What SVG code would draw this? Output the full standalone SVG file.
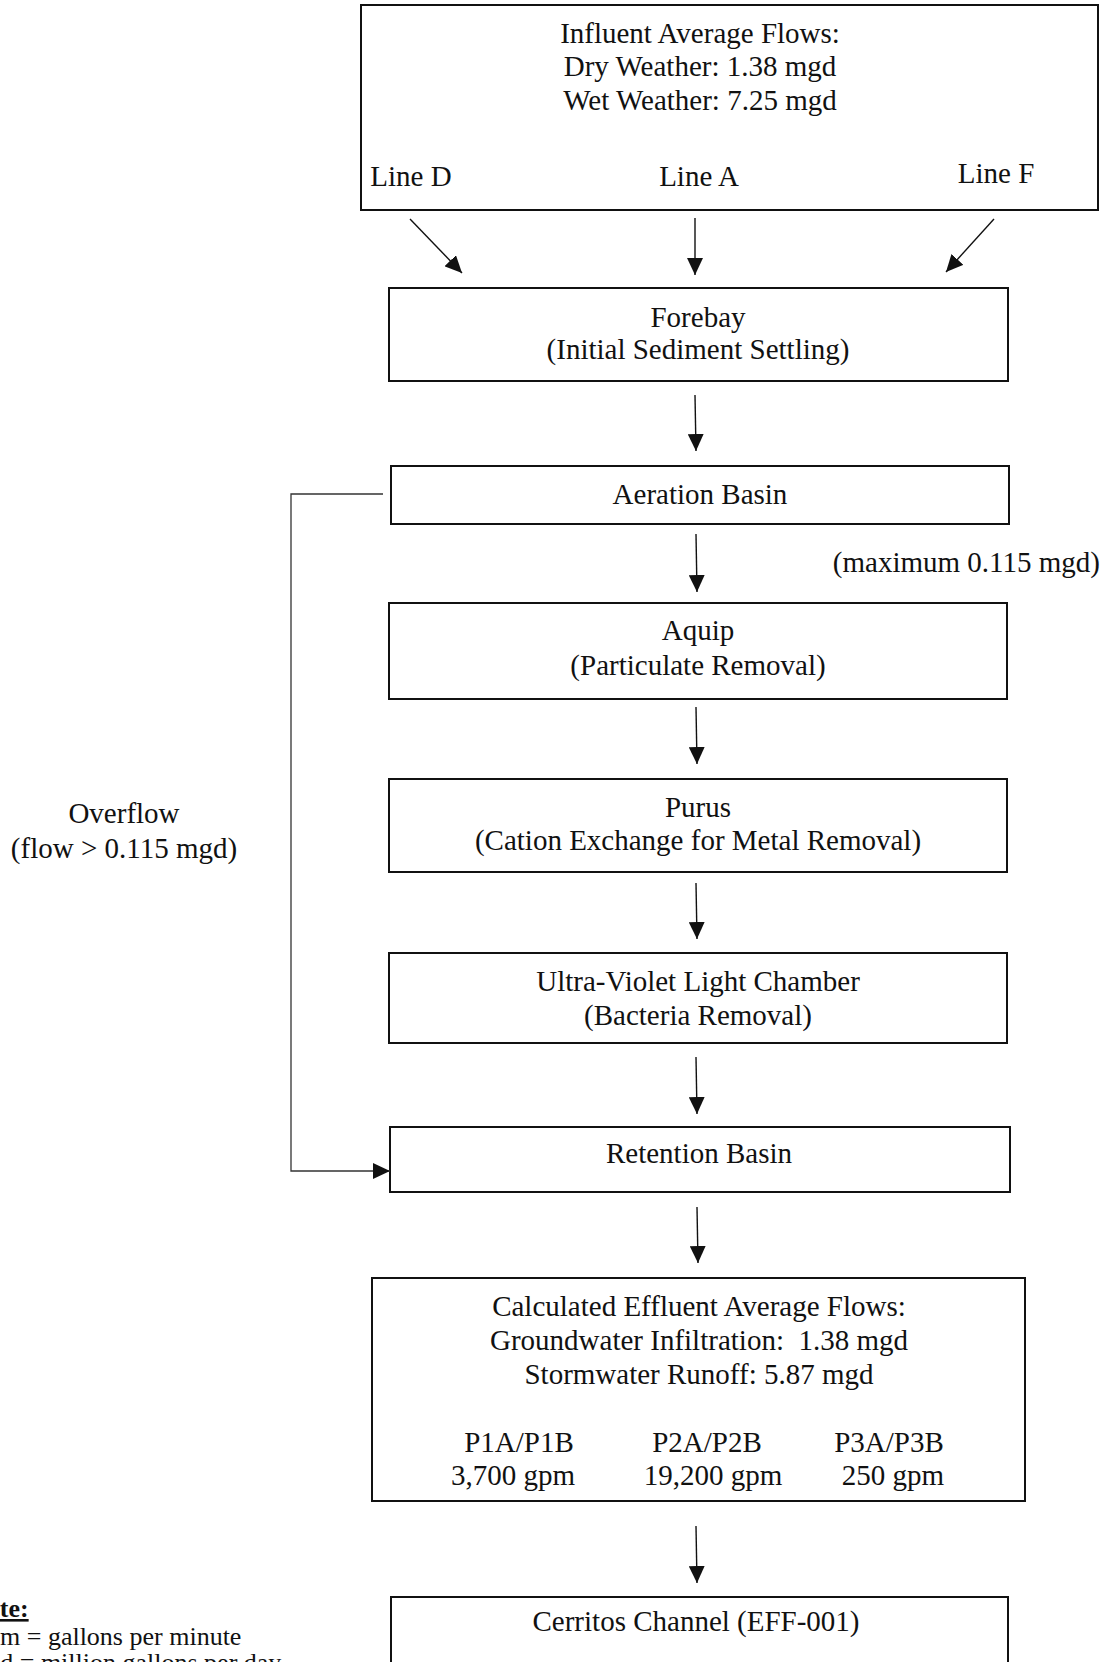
<svg xmlns="http://www.w3.org/2000/svg" width="1103" height="1662" viewBox="0 0 1103 1662">
<style>
.box{fill:#fff;stroke:#111;stroke-width:2}
.t{font-family:"Liberation Serif","Times New Roman",serif;font-size:29px;fill:#111;text-anchor:middle}
.n{font-family:"Liberation Serif","Times New Roman",serif;font-size:26px;fill:#111}
.c{fill:none;stroke:#111;stroke-width:1.4}
.o{fill:none;stroke:#333;stroke-width:1.3}
</style>
<defs>
<marker id="ah" viewBox="0 0 17 16" refX="17" refY="8" markerWidth="17" markerHeight="16" markerUnits="userSpaceOnUse" orient="auto">
<path d="M0,0 L17,8 L0,16 z" fill="#111"/>
</marker>
</defs>
<rect width="1103" height="1662" fill="#fff"/>
<g id="influent">
<rect class="box" x="361" y="5" width="737" height="205"/>
<text class="t" x="700" y="43">Influent Average Flows:</text>
<text class="t" x="700" y="76">Dry Weather: 1.38 mgd</text>
<text class="t" x="700" y="110">Wet Weather: 7.25 mgd</text>
<text class="t" x="411" y="186">Line D</text>
<text class="t" x="699" y="186">Line A</text>
<text class="t" x="996" y="183">Line F</text>
</g>
<g id="forebay">
<rect class="box" x="389" y="288" width="619" height="93"/>
<text class="t" x="698" y="327">Forebay</text>
<text class="t" x="698" y="359">(Initial Sediment Settling)</text>
</g>
<g id="aeration">
<rect class="box" x="391" y="466" width="618" height="58"/>
<text class="t" x="700" y="504">Aeration Basin</text>
</g>
<g id="aquip">
<rect class="box" x="389" y="603" width="618" height="96"/>
<text class="t" x="698" y="640">Aquip</text>
<text class="t" x="698" y="675">(Particulate Removal)</text>
</g>
<g id="purus">
<rect class="box" x="389" y="779" width="618" height="93"/>
<text class="t" x="698" y="817">Purus</text>
<text class="t" x="698" y="850">(Cation Exchange for Metal Removal)</text>
</g>
<g id="uv">
<rect class="box" x="389" y="953" width="618" height="90"/>
<text class="t" x="698" y="991">Ultra-Violet Light Chamber</text>
<text class="t" x="698" y="1025">(Bacteria Removal)</text>
</g>
<g id="retention">
<rect class="box" x="390" y="1127" width="620" height="65"/>
<text class="t" x="699" y="1163">Retention Basin</text>
</g>
<g id="effluent">
<rect class="box" x="372" y="1278" width="653" height="223"/>
<text class="t" x="699" y="1316">Calculated Effluent Average Flows:</text>
<text class="t" x="699" y="1350" xml:space="preserve">Groundwater Infiltration:  1.38 mgd</text>
<text class="t" x="699" y="1384">Stormwater Runoff: 5.87 mgd</text>
<text class="t" x="519" y="1452">P1A/P1B</text>
<text class="t" x="513" y="1485">3,700 gpm</text>
<text class="t" x="707" y="1452">P2A/P2B</text>
<text class="t" x="713" y="1485">19,200 gpm</text>
<text class="t" x="889" y="1452">P3A/P3B</text>
<text class="t" x="893" y="1485">250 gpm</text>
</g>
<g id="cerritos">
<rect class="box" x="391" y="1597" width="617" height="100"/>
<text class="t" x="696" y="1631">Cerritos Channel (EFF-001)</text>
</g>
<g id="labels">
<text class="t" x="124" y="823">Overflow</text>
<text class="t" x="124" y="858">(flow &gt; 0.115 mgd)</text>
<text class="t" x="1100" y="572" style="text-anchor:end">(maximum 0.115 mgd)</text>
</g>
<g id="note">
<text class="n" x="-32" y="1617" font-weight="bold" text-decoration="underline">Note:</text>
<text class="n" x="-26" y="1645">gpm = gallons per minute</text>
<text class="n" x="-33" y="1671">mgd = million gallons per day</text>
</g>
<g id="connectors">
<line class="c" x1="410" y1="219" x2="462" y2="273" marker-end="url(#ah)"/>
<line class="c" x1="695" y1="218" x2="695" y2="275" marker-end="url(#ah)"/>
<line class="c" x1="994" y1="219" x2="946" y2="272" marker-end="url(#ah)"/>
<line class="c" x1="695" y1="395" x2="696" y2="451" marker-end="url(#ah)"/>
<line class="c" x1="696" y1="534" x2="697" y2="592" marker-end="url(#ah)"/>
<line class="c" x1="696" y1="707" x2="697" y2="764" marker-end="url(#ah)"/>
<line class="c" x1="696" y1="883" x2="697" y2="939" marker-end="url(#ah)"/>
<line class="c" x1="696" y1="1057" x2="697" y2="1114" marker-end="url(#ah)"/>
<line class="c" x1="697" y1="1207" x2="698" y2="1263" marker-end="url(#ah)"/>
<line class="c" x1="696" y1="1526" x2="697" y2="1583" marker-end="url(#ah)"/>
<path class="o" d="M383,494 H291 V1171 H390" marker-end="url(#ah)"/>
</g>
</svg>
